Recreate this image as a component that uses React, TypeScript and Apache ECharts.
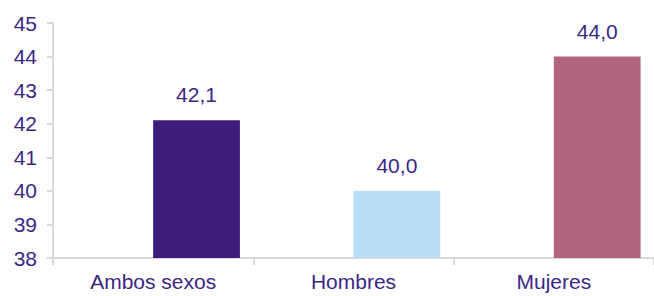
import React, { useEffect, useRef } from "react";
import * as echarts from "echarts";

const categories = ["Ambos sexos", "Hombres", "Mujeres"];
const values = [42.1, 40.0, 44.0];
const barColors = ["#3d1c7a", "#b9dff6", "#b3647d"];
const yTicks = [38, 39, 40, 41, 42, 43, 44, 45];

const textColor = "#3b2785";
const font = "'Liberation Sans', Arial, sans-serif";

export default function App() {
  const ref = useRef<HTMLDivElement>(null);
  useEffect(() => {
    if (!ref.current) return;
    const chart = echarts.init(ref.current, undefined, { renderer: "svg" });
    chart.setOption({
      animation: false,
      grid: { left: 53, right: 0, top: 23, bottom: 38, containLabel: false },
      xAxis: {
        type: "category",
        data: categories,
        axisLine: { lineStyle: { color: "#d9d9d9", width: 2 } },
        axisTick: { show: true, length: 7, lineStyle: { color: "#d9d9d9", width: 2 } },
        axisLabel: { color: textColor, fontSize: 21, fontFamily: font, margin: 13 },
      },
      yAxis: {
        type: "value",
        min: yTicks[0],
        max: yTicks[yTicks.length - 1],
        interval: 1,
        splitLine: { show: false },
        axisLine: { show: true, lineStyle: { color: "#d9d9d9", width: 2 } },
        axisTick: { show: true, length: 6, lineStyle: { color: "#d9d9d9", width: 2 } },
        axisLabel: { color: textColor, fontSize: 21, fontFamily: font, margin: 16 },
      },
      series: [
        {
          type: "bar",
          data: categories.map(() => null),
          barGap: "0%",
          barCategoryGap: "13.4%",
        },
        {
          type: "bar",
          barGap: "0%",
          barCategoryGap: "13.4%",
          data: values.map((v, i) => ({ value: v, itemStyle: { color: barColors[i] } })),
          label: {
            show: true,
            position: "top",
            distance: 15,
            color: textColor,
            fontSize: 21,
            fontFamily: font,
            formatter: (p: any) => p.value.toFixed(1).replace(".", ","),
          },
        },
      ],
    });
    return () => chart.dispose();
  }, []);
  return <div ref={ref} style={{ width: 654, height: 296, position: "absolute", left: 0, top: 0 }} />;
}
